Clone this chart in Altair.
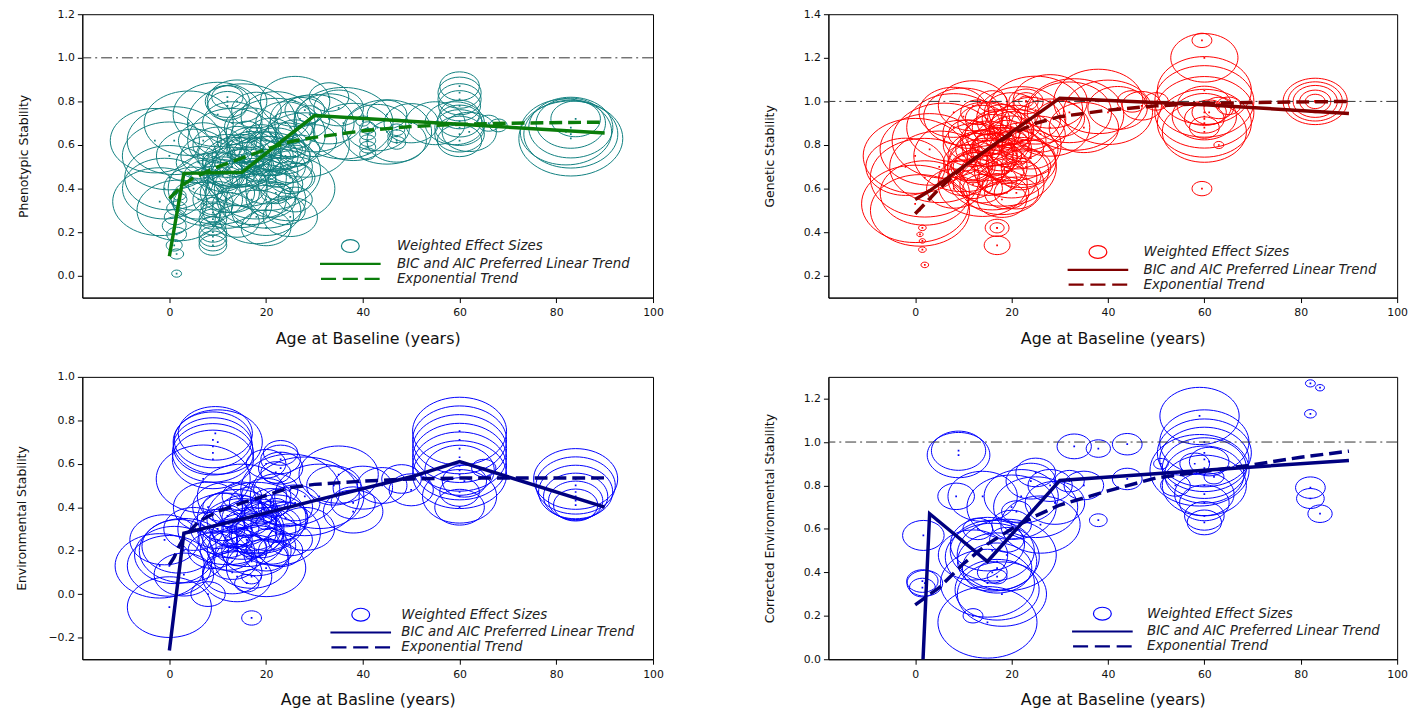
import altair as alt
import pandas as pd

SERIES = ["Weighted Effect Sizes", "BIC and AIC Preferred Linear Trend", "Exponential Trend"]
X_TICKS = [0, 20, 40, 60, 80, 100]

# ---------------- Panel 1: Phenotypic stability ----------------
P1_AGE = [1.5, 1.5, 1.0, 1.5, 1.0, 1.2, 1.5, 1.8, 2.0,
          9, 9, 9, 9, 9, 9, 9, 9,
          -2, -1, 0, 1, 4, 10, 12, 12, 12, 5,
          12, 14, 16, 18, 20, 20, 18, 15, 13, 17, 20, 22, 24, 25, 26, 23, 19, 16, 14, 21, 24, 27, 22, 28, 26,
          11, 8, 6, 10, 5, 12, 14, 24, 26, 18, 22, 15,
          -3, 0, 2, 15, 20, 22, 28, 25, 10, 13, 30, 36, 45, 55, 17, 7, 20, 25, 14, 18, 26, 33,
          15, 17, 20, 23, 12, 19, 22, 25, 16, 10,
          9, 11, 13, 15, 17, 19, 21, 23, 25, 27, 10, 12, 14, 16, 18, 20, 22, 24, 26, 8, 7, 6, 13, 17, 21, 25,
          33, 38, 43, 47, 50, 45, 35, 30, 29,
          41, 41, 41, 41, 41, 40, 47, 47, 47,
          60, 60, 60, 60, 60, 60, 60, 60, 60, 59, 62, 66, 68,
          83, 83, 83, 83, 84, 82]
P1_STAB = [0.01, 0.10, 0.14, 0.19, 0.23, 0.27, 0.31, 0.35, 0.37,
           0.14, 0.16, 0.18, 0.20, 0.23, 0.26, 0.29, 0.32,
           0.34, 0.40, 0.45, 0.62, 0.70, 0.74, 0.80, 0.78, 0.82, 0.55,
           0.55, 0.52, 0.45, 0.40, 0.35, 0.30, 0.27, 0.32, 0.38, 0.60, 0.55, 0.58, 0.62, 0.50, 0.45, 0.42, 0.50, 0.58, 0.62, 0.65, 0.70, 0.72, 0.73, 0.76, 0.55,
           0.48, 0.45, 0.52, 0.60, 0.40, 0.30, 0.25, 0.30, 0.35, 0.48, 0.50, 0.45,
           0.62, 0.55, 0.30, 0.70, 0.48, 0.65, 0.60, 0.40, 0.40, 0.62, 0.70, 0.70, 0.66, 0.70, 0.35, 0.33, 0.22, 0.27, 0.80, 0.76, 0.80, 0.82,
           0.55, 0.52, 0.62, 0.55, 0.45, 0.44, 0.38, 0.58, 0.66, 0.52,
           0.42, 0.46, 0.50, 0.55, 0.58, 0.62, 0.55, 0.50, 0.45, 0.58, 0.35, 0.38, 0.42, 0.50, 0.55, 0.42, 0.48, 0.55, 0.65, 0.55, 0.62, 0.35, 0.70, 0.68, 0.35, 0.68,
           0.72, 0.66, 0.68, 0.62, 0.70, 0.74, 0.77, 0.62, 0.74,
           0.56, 0.59, 0.62, 0.65, 0.68, 0.71, 0.61, 0.64, 0.67,
           0.62, 0.65, 0.68, 0.71, 0.74, 0.78, 0.81, 0.84, 0.87, 0.70, 0.66, 0.70, 0.69,
           0.63, 0.65, 0.68, 0.70, 0.72, 0.66]
P1_W = [1.0, 2.0, 2.6, 4.0, 5.8, 4.8, 4.0, 3.2, 2.0,
        7.8, 7.8, 7.8, 7.8, 6.8, 7.8, 6.8, 5.8,
        90, 72, 81, 90, 81, 81, 20, 16, 10, 56,
        36, 49, 64, 72, 64, 49, 56, 36, 30, 25, 30, 36, 25, 20, 16, 20, 16, 12, 16, 20, 36, 36, 49, 16, 9,
        16, 25, 20, 25, 36, 25, 20, 16, 12, 9, 6, 6,
        81, 90, 72, 121, 121, 100, 81, 81, 100, 81, 64, 100, 81, 36, 49, 36, 25, 30, 36, 25, 49, 16,
        4, 6, 6, 4, 9, 9, 9, 6, 9, 9,
        25, 20, 30, 36, 25, 20, 30, 25, 20, 16, 25, 30, 36, 30, 25, 30, 20, 25, 16, 30, 25, 30, 36, 30, 25, 20,
        49, 64, 42, 36, 30, 16, 25, 20, 6,
        2.6, 2.6, 2.6, 2.6, 2.6, 2.0, 3.2, 3.2, 2.6,
        20, 25, 25, 20, 16, 18, 19, 19, 16, 36, 30, 5, 3.2,
        110, 90, 72, 49, 25, 85]
P1_LIN_AGE = [0, 3, 15, 30, 60, 90]
P1_LIN = [0.09, 0.47, 0.475, 0.735, 0.695, 0.655]
P1_EXP_AGE = [0, 3, 5, 10, 15, 20, 25, 30, 40, 50, 60, 70, 90]
P1_EXP = [0.355, 0.42, 0.45, 0.50, 0.54, 0.58, 0.615, 0.635, 0.665, 0.685, 0.695, 0.70, 0.705]

# ---------------- Panel 2: Genetic stability ----------------
P2_AGE = [0, 1, 0, 3, 6, 8, 10, 12, 2, -2,
          17, 17, 17, 1.5, 2, 1.5, 1, 1.5,
          12, 14, 15, 16, 18, 20, 22, 18, 16, 14, 20, 22, 24, 12, 10, 8, 14, 17, 19, 15, 11, 18, 20, 24, 26, 13, 16, 21, 18,
          2, 5, 10, 15, 20, 18, 22, 25, 14, 8, 28, 33, 40, 12, 16, 19, 17, 14, 21,
          11, 13, 15, 17, 19, 21, 23, 12, 14, 16, 18, 20, 22, 24, 15, 17, 19, 21,
          28, 32, 35, 38, 42, 45, 50, 47, 23, 23, 23, 30,
          59.5, 60, 60, 60, 60, 60, 60, 60, 60, 61, 63, 65, 63, 59.5, 60, 60,
          83, 83, 83, 83, 83]
P2_STAB = [0.53, 0.50, 0.75, 0.78, 0.82, 0.88, 0.93, 0.98, 0.58, 0.70,
           0.42, 0.42, 0.34, 0.32, 0.25, 0.42, 0.39, 0.36,
           0.80, 0.75, 0.70, 0.65, 0.62, 0.68, 0.72, 0.78, 0.85, 0.90, 0.88, 0.82, 0.78, 0.70, 0.65, 0.60, 0.60, 0.72, 0.75, 0.80, 0.85, 0.92, 0.95, 0.92, 0.85, 0.95, 1.00, 0.58, 0.55,
           0.65, 0.70, 0.75, 0.85, 0.80, 0.70, 0.92, 0.96, 0.62, 0.95, 0.88, 0.94, 0.95, 0.70, 0.78, 0.68, 0.62, 0.82, 0.76,
           0.72, 0.78, 0.82, 0.88, 0.84, 0.78, 0.70, 0.62, 0.68, 0.74, 0.80, 0.86, 0.66, 0.74, 0.92, 0.64, 0.58, 0.90,
           1.00, 0.95, 0.88, 1.00, 0.97, 1.00, 1.00, 0.98, 1.00, 1.00, 1.00, 0.92,
           1.28, 1.20, 1.05, 1.00, 0.95, 0.90, 0.86, 0.92, 0.88, 0.95, 0.97, 0.98, 0.80, 0.60, 0.98, 0.93,
           1.00, 1.00, 1.00, 1.00, 1.00]
P2_W = [117, 100, 110, 100, 110, 90, 64, 49, 81, 64,
        5.8, 2.0, 6.8, 0.6, 0.6, 0.6, 0.4, 0.4,
        36, 49, 64, 81, 72, 56, 49, 36, 30, 25, 20, 25, 30, 20, 25, 30, 16, 12, 9, 9, 16, 16, 30, 36, 25, 12, 9, 20, 25,
        121, 100, 100, 81, 100, 121, 81, 90, 81, 49, 64, 100, 81, 16, 20, 12, 9, 9, 9,
        25, 20, 30, 25, 20, 30, 25, 16, 20, 25, 30, 20, 16, 25, 20, 16, 20, 25,
        56, 72, 49, 81, 36, 9, 6, 16, 6, 2.2, 12, 25,
        4.0, 46, 90, 100, 100, 90, 72, 16, 9, 12, 9, 6, 1.0, 4.0, 30, 42,
        42, 30, 20, 10, 4.0]
P2_LIN_AGE = [0, 3, 15, 30, 60, 90]
P2_LIN = [0.55, 0.59, 0.78, 1.015, 0.985, 0.945]
P2_EXP_AGE = [0, 2, 5, 10, 15, 20, 25, 30, 40, 50, 60, 70, 90]
P2_EXP = [0.485, 0.53, 0.60, 0.70, 0.78, 0.85, 0.90, 0.93, 0.96, 0.98, 0.99, 0.995, 1.0]

# ---------------- Panel 3: Environmental stability ----------------
P3_AGE = [9, 9, 9, 9, 9.5, 10, 7,
          20, 23, 23, 23, 22,
          0, 1, 2, 0, 3, 8, -1, 5, 17,
          12, 14, 15, 16, 18, 17, 13, 12, 20, 22, 24, 20, 17, 15, 13, 11, 10, 19, 21, 25, 16, 17, 22, 26, 14,
          12, 18, 22, 15, 25, 28, 35, 20, 14, 8, 3, -2,
          16, 18, 14, 20, 12, 17, 22,
          10, 12, 14, 16, 18, 20, 22, 24, 11, 13, 15, 17, 19, 21, 23, 9,
          31, 38, 38, 44, 48, 40, 28, 50, 34,
          60, 60, 60, 60, 60, 60, 60, 60, 60, 60, 61, 65,
          84, 84, 84, 84, 84, 84]
P3_STAB = [0.62, 0.65, 0.68, 0.71, 0.74, 0.70, 0.53,
           0.60, 0.62, 0.58, 0.65, 0.56,
           0.13, 0.18, 0.22, -0.06, 0.09, 0.00, 0.25, 0.30, -0.11,
           0.40, 0.35, 0.30, 0.25, 0.20, 0.15, 0.10, 0.20, 0.30, 0.35, 0.40, 0.45, 0.42, 0.45, 0.28, 0.32, 0.25, 0.38, 0.22, 0.25, 0.05, 0.08, 0.48, 0.42, 0.18,
           0.30, 0.35, 0.28, 0.45, 0.48, 0.45, 0.55, 0.12, 0.08, 0.40, 0.20, 0.13,
           0.30, 0.38, 0.25, 0.33, 0.36, 0.22, 0.40,
           0.30, 0.25, 0.20, 0.35, 0.28, 0.18, 0.32, 0.35, 0.40, 0.15, 0.38, 0.30, 0.25, 0.42, 0.20, 0.20,
           0.45, 0.38, 0.42, 0.50, 0.53, 0.49, 0.30, 0.48, 0.50,
           0.55, 0.59, 0.63, 0.67, 0.71, 0.75, 0.57, 0.47, 0.40, 0.45, 0.52, 0.58,
           0.53, 0.50, 0.47, 0.45, 0.43, 0.41]
P3_W = [67, 67, 64, 61, 56, 81, 90,
        16, 16, 20, 12, 9,
        72, 64, 56, 72, 36, 12, 49, 36, 4.0,
        49, 64, 72, 56, 49, 56, 36, 30, 36, 42, 30, 25, 20, 16, 16, 20, 16, 12, 25, 20, 6, 4.0, 20, 25, 9,
        100, 100, 81, 81, 100, 121, 64, 64, 49, 49, 81, 81,
        6, 6, 6, 4, 9, 9, 6,
        30, 25, 36, 25, 30, 20, 25, 20, 16, 25, 20, 36, 25, 16, 20, 25,
        81, 36, 20, 25, 16, 36, 36, 20, 30,
        90, 90, 90, 90, 90, 90, 49, 16, 25, 56, 20, 6,
        72, 64, 56, 42, 30, 20]
P3_LIN_AGE = [0, 3, 15, 30, 50, 60, 90]
P3_LIN = [-0.26, 0.28, 0.345, 0.43, 0.54, 0.61, 0.40]
P3_EXP_AGE = [0, 1, 2, 3, 6, 10, 15, 18, 25, 30, 40, 50, 60, 90]
P3_EXP = [0.135, 0.17, 0.22, 0.26, 0.333, 0.38, 0.42, 0.44, 0.49, 0.505, 0.52, 0.53, 0.534, 0.535]

# ---------------- Panel 4: Corrected environmental stability ----------------
P4_AGE = [9, 9, 1.7, 1.5, 1.5, 2, 8.5, 14, 16, 16, 17, 17, 15, 15, 18, 17, 12,
          25, 24, 22, 25, 28, 32, 20, 19, 21, 13, 16, 17,
          19, 15, 20, 26, 12, 35, 29,
          33, 38, 44, 38, 44,
          59, 60, 60, 60, 60, 60, 60, 60, 60, 60, 60, 59, 61, 62, 58, 54, 51,
          82, 84, 82, 82, 82, 84]
P4_STAB = [0.94, 0.96, 0.57, 0.36, 0.33, 0.35, 0.75, 0.75, 0.50, 0.47, 0.45, 0.42, 0.53, 0.17, 0.30, 0.32, 0.20,
           0.86, 0.82, 0.75, 0.70, 0.80, 0.82, 0.62, 0.55, 0.68, 0.60, 0.40, 0.38,
           0.48, 0.35, 0.70, 0.62, 0.48, 0.80, 0.72,
           0.98, 0.97, 0.99, 0.64, 0.83,
           1.12, 1.00, 0.95, 0.92, 0.88, 0.85, 0.80, 0.76, 0.72, 0.66, 0.63, 0.87, 0.91, 0.84, 0.90, 0.80, 0.90,
           1.27, 1.25, 1.13, 0.79, 0.74, 0.67]
P4_W = [40, 30, 17.6, 10, 6.8, 13, 13.7, 49, 72, 90, 64, 49, 56, 100, 81, 72, 4.0,
        16, 25, 56, 72, 20, 9, 16, 12, 9, 9, 9, 4.0,
        100, 90, 81, 64, 49, 16, 36,
        12, 6, 9, 3.2, 9,
        64, 81, 90, 81, 72, 64, 72, 36, 25, 16, 12, 100, 16, 4.0, 9, 9, 2.2,
        1.0, 0.8, 1.4, 9, 7.8, 6]
P4_LIN_AGE = [0, 3, 15, 30, 60, 90]
P4_LIN = [-0.80, 0.67, 0.45, 0.823, 0.87, 0.915]
P4_EXP_AGE = [0, 5, 10, 15, 20, 25, 30, 40, 50, 60, 70, 80, 90]
P4_EXP = [0.25, 0.33, 0.44, 0.53, 0.60, 0.66, 0.71, 0.775, 0.835, 0.865, 0.895, 0.93, 0.958]

# ---------------- styling constants ----------------
FONT = "DejaVu Sans"
LEG_SYM = 169                  # legend symbol size (13 px box)
ELLIPSE = "M-1.385,0 A1.385,1 0 1,0 1.385,0 A1.385,1 0 1,0 -1.385,0 Z"
SIZE_K = 100 / (1.385 ** 2)    # weight -> symbol area so width = 10*sqrt(w) px
_h = 0.08
LINE_SOLID = f"M-4.615,-{_h} L4.615,-{_h} L4.615,{_h} L-4.615,{_h} Z"
LINE_DASH = " ".join(
    f"M{a},-{_h} L{b},-{_h} L{b},{_h} L{a},{_h} Z"
    for a, b in [(-4.46, -2.31), (-1.08, 1.08), (2.31, 4.46)]
)


def panel(age, stab, w, lin_age, lin_val, exp_age, exp_val, ydomain, yticks, ytitle, xtitle,
          bubble_color, line_color, legend_x, legend_y, label_offset, width, height,
          refline=True, ytitle_pad=27):
    bub = pd.DataFrame({"age": age, "stab": stab, "w": w, "series": SERIES[0]})
    lin = pd.DataFrame({"age": lin_age, "stab": lin_val, "series": SERIES[1]})
    exq = pd.DataFrame({"age": exp_age, "stab": exp_val, "series": SERIES[2]})

    x = alt.X("age:Q",
              scale=alt.Scale(domain=[-18, 100], nice=False, zero=False),
              axis=alt.Axis(values=X_TICKS, format="d", title=xtitle, labelFlush=False,
                            titleFont=FONT, titleFontSize=16, titleFontWeight="normal",
                            labelPadding=4, titlePadding=13))
    y = alt.Y("stab:Q",
              scale=alt.Scale(domain=ydomain, nice=False, zero=False),
              axis=alt.Axis(values=yticks, format=".1f", title=ytitle, labelFlush=False,
                            titleFont=FONT, titleFontSize=12.5, titleFontWeight="normal",
                            labelPadding=3, titlePadding=ytitle_pad))
    legend = alt.Legend(title=None, orient="none", legendX=legend_x, legendY=legend_y,
                        symbolSize=LEG_SYM, symbolStrokeWidth=1.2, symbolOffset=0,
                        labelFont=FONT, labelFontStyle="italic", labelFontSize=13.5,
                        labelColor="#222222", labelOffset=label_offset, labelLimit=0,
                        padding=0, rowPadding=1)
    color = alt.Color("series:N",
                      scale=alt.Scale(domain=SERIES, range=[bubble_color, line_color, line_color]),
                      legend=legend)
    shape = alt.Shape("series:N",
                      scale=alt.Scale(domain=SERIES, range=[ELLIPSE, LINE_SOLID, LINE_DASH]),
                      legend=legend)

    bubbles = alt.Chart(bub).mark_point(filled=False, strokeWidth=1, opacity=1, clip=True).encode(
        x=x, y=y,
        size=alt.Size("w:Q", scale=alt.Scale(domain=[0, 1], range=[0, SIZE_K]), legend=None),
        color=color, shape=shape)
    dots = alt.Chart(bub).mark_square(size=3, opacity=1, clip=True, color=bubble_color).encode(x=x, y=y)
    lin_l = alt.Chart(lin).mark_line(strokeWidth=3.5, clip=True).encode(x=x, y=y, color=color)
    exp_l = alt.Chart(exq).mark_line(strokeWidth=3.5, strokeDash=[13, 6], clip=True).encode(
        x=x, y=y, color=color)
    layers = [bubbles, dots]
    if refline:
        ref = alt.Chart(pd.DataFrame({"stab": [1.0]})).mark_rule(
            color="#333333", strokeWidth=1, strokeDash=[11, 4, 2, 4]).encode(y=y)
        layers.append(ref)
    layers += [lin_l, exp_l]
    return alt.layer(*layers).properties(width=width, height=height)


RES = dict(color="independent", shape="independent", size="independent",
           x="independent", y="independent")

p1 = panel(P1_AGE, P1_STAB, P1_W, P1_LIN_AGE, P1_LIN, P1_EXP_AGE, P1_EXP,
           [-0.1, 1.2], [0.0, 0.2, 0.4, 0.6, 0.8, 1.0, 1.2], "Phenotypic Stability",
           "Age at Baseline (years)", "#108080", "#0a7d0a", 263, 226.5, 39.5, 576, 286)
p2 = panel(P2_AGE, P2_STAB, P2_W, P2_LIN_AGE, P2_LIN, P2_EXP_AGE, P2_EXP,
           [0.1, 1.4], [0.2, 0.4, 0.6, 0.8, 1.0, 1.2, 1.4], "Genetic Stability",
           "Age at Baseline (years)", "#ff0000", "#800000", 264.5, 232.5, 38.5, 574, 286)
p3 = panel(P3_AGE, P3_STAB, P3_W, P3_LIN_AGE, P3_LIN, P3_EXP_AGE, P3_EXP,
           [-0.3, 1.0], [-0.2, 0.0, 0.2, 0.4, 0.6, 0.8, 1.0], "Environmental Stability",
           "Age at Basline (years)", "#0000ff", "#000080", 273.5, 232.5, 33.5, 576, 285,
           refline=False, ytitle_pad=20)
p4 = panel(P4_AGE, P4_STAB, P4_W, P4_LIN_AGE, P4_LIN, P4_EXP_AGE, P4_EXP,
           [0.0, 1.3], [0.0, 0.2, 0.4, 0.6, 0.8, 1.0, 1.2], "Corrected Environmental Stability",
           "Age at Baseline (years)", "#0000ff", "#000080", 269, 231.5, 37.5, 574, 285)

row1 = alt.hconcat(p1, p2, spacing=100).resolve_scale(**RES).resolve_legend(color="independent", shape="independent")
row2 = alt.hconcat(p3, p4, spacing=100).resolve_scale(**RES).resolve_legend(color="independent", shape="independent")

chart = alt.vconcat(row1, row2, spacing=23).resolve_scale(**RES).resolve_legend(
    color="independent", shape="independent"
).properties(
    padding={"left": 6, "top": -4, "right": 5, "bottom": 5},
    background="white",
).configure_view(
    stroke="black", strokeWidth=1
).configure_axis(
    grid=False, domainColor="black", domainWidth=1, tickColor="black", tickWidth=1, tickSize=5,
    labelFont=FONT, labelFontSize=11, labelColor="#111111", titleColor="#111111"
)

chart.save("out.html", embed_options={"renderer": "svg", "actions": False})
